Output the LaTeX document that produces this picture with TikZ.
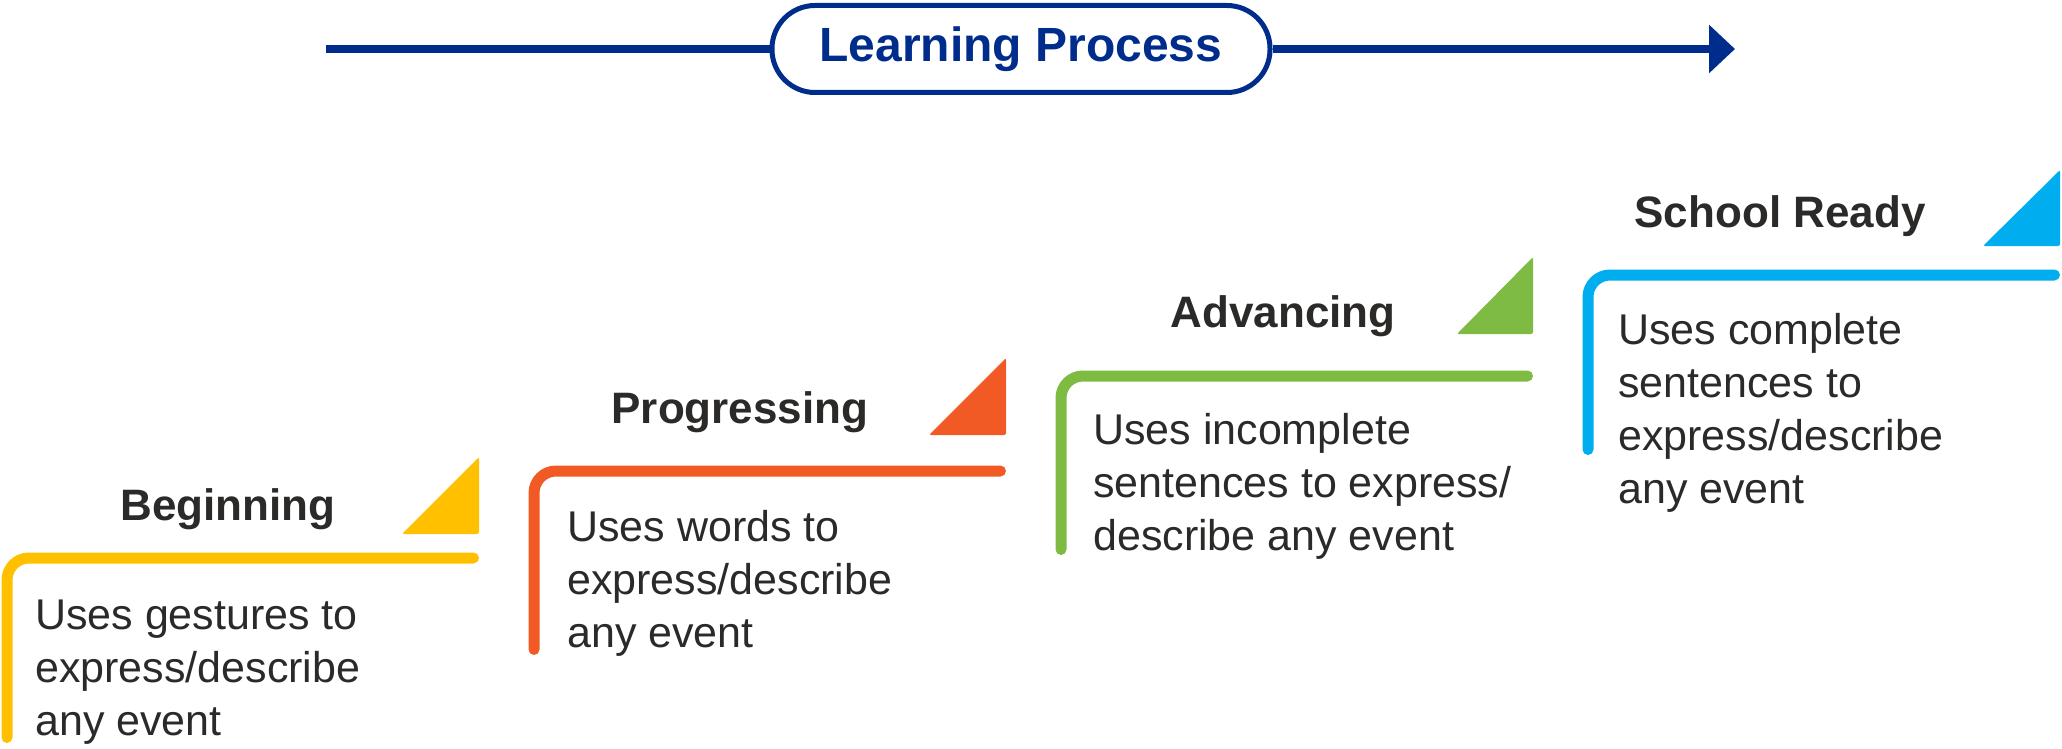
\documentclass[tikz,border=0pt]{standalone}
\usepackage{fontspec}
\setmainfont{Liberation Sans}
\usetikzlibrary{arrows.meta}
\definecolor{navy}{RGB}{0,45,140}
\definecolor{txt}{RGB}{43,42,41}
\definecolor{cyel}{RGB}{255,192,0}
\definecolor{corg}{RGB}{241,90,36}
\definecolor{cgrn}{RGB}{125,187,66}
\definecolor{cblu}{RGB}{0,174,239}
\begin{document}
\begin{tikzpicture}[x=1pt,y=-1pt,
  stepline/.style={line width=11pt, line cap=round, rounded corners=22pt},
  tri/.style={rounded corners=2pt},
  stagetitle/.style={anchor=base, inner sep=0pt, text=txt, font=\fontsize{44}{53}\selectfont\bfseries},
  body/.style={anchor=base west, inner sep=0pt, text=txt, align=left, font=\fontsize{43}{53}\selectfont},
  proc/.style={draw=navy, line width=5pt, rounded corners=43pt, minimum width=498pt, minimum height=87pt, inner sep=0pt, text=navy, font=\fontsize{48}{56}\selectfont\bfseries},
  navyline/.style={navy, line width=8pt}]
\useasboundingbox (0,0) rectangle (2062,749);

% top process arrow
\node[proc] (lp) at (1021,49) {Learning Process};
\coordinate (as) at (326,49);
\coordinate (ae) at (1735,49);
\draw[navyline] (as) -- (lp.west);
\draw[navyline, -{Triangle[length=26pt,width=47pt]}] (lp.east) -- (ae);

% step 1 (body anchored at the baseline of its last line)
\draw[stepline, cyel] (473.5,558) -- (7,558) -- (7,737.5);
\fill[cyel, tri] (479,457) -- (479,534) -- (402,534) -- cycle;
\node[stagetitle] (t1) at (228,520) {Beginning};
\node[body] (d1) at (35,735) {Uses gestures to\\express/describe\\any event};

% step 2
\draw[stepline, corg] (1000.5,471) -- (534,471) -- (534,649.5);
\fill[corg, tri] (1006,358) -- (1006,435) -- (929,435) -- cycle;
\node[stagetitle] (t2) at (740,423) {Progressing};
\node[body] (d2) at (567,647) {Uses words to\\express/describe\\any event};

% step 3
\draw[stepline, cgrn] (1527.5,376) -- (1061,376) -- (1061,549.5);
\fill[cgrn, tri] (1533,257) -- (1533,334) -- (1457,334) -- cycle;
\node[stagetitle] (t3) at (1283,327) {Advancing};
\node[body] (d3) at (1093,550) {Uses incomplete\\sentences to express/\\describe any event};

% step 4
\draw[stepline, cblu] (2054.5,275) -- (1588,275) -- (1588,449.5);
\fill[cblu, tri] (2060,170) -- (2060,246) -- (1983,246) -- cycle;
\node[stagetitle] (t4) at (1780,227) {School Ready};
\node[body] (d4) at (1618,503) {Uses complete\\sentences to\\express/describe\\any event};
\end{tikzpicture}
\end{document}
